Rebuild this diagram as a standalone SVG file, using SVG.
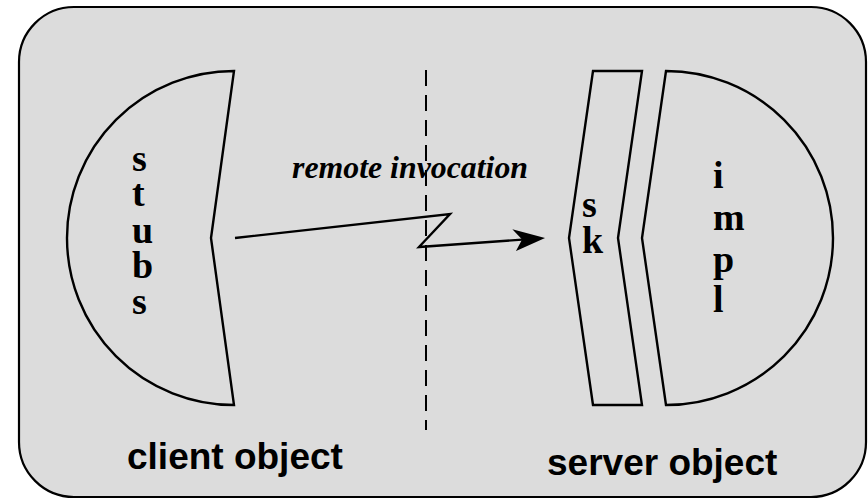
<svg xmlns="http://www.w3.org/2000/svg" width="868" height="499" viewBox="0 0 868 499">
  <style>
    .shape { fill: none; stroke: #000; stroke-width: 2.4; stroke-linejoin: miter; }
    .letter { font-family: "Liberation Serif", "Times New Roman", serif; font-weight: bold; font-size: 38px; fill: #000; }
    .caption { font-family: "Liberation Sans", Arial, sans-serif; font-weight: bold; font-size: 37px; fill: #000; }
    .note { font-family: "Liberation Serif", "Times New Roman", serif; font-weight: bold; font-style: italic; font-size: 32px; fill: #000; }
  </style>
  <defs>
    <marker id="arrowhead" viewBox="0 0 32 22" refX="9" refY="11" markerWidth="32" markerHeight="22" markerUnits="userSpaceOnUse" orient="auto">
      <path d="M0,0 L32,11 L2,22 L9,11 Z" fill="#000"/>
    </marker>
  </defs>

  <rect width="868" height="499" fill="#fff"/>

  <!-- enclosing frame -->
  <g id="frame">
    <rect x="19" y="7" width="847" height="490" rx="55" ry="55" fill="#dcdcdc" stroke="#000" stroke-width="2.2"/>
  </g>

  <!-- client side: stubs -->
  <g id="stubs">
    <path class="shape" d="M234,71 A167,167 0 0 0 234,405 L211,238 Z"/>
    <text class="letter">
      <tspan x="132" y="171">s</tspan>
      <tspan x="132" y="206">t</tspan>
      <tspan x="132" y="243">u</tspan>
      <tspan x="132" y="278">b</tspan>
      <tspan x="132" y="314">s</tspan>
    </text>
  </g>

  <!-- server side: skeleton -->
  <g id="skeleton">
    <path class="shape" d="M593,71 L642,71 L618,238 L642,405 L593,405 L569,238 Z"/>
    <text class="letter">
      <tspan x="582" y="217">s</tspan>
      <tspan x="582" y="253">k</tspan>
    </text>
  </g>

  <!-- server side: implementation -->
  <g id="impl">
    <path class="shape" d="M666,71 A167,167 0 0 1 666,405 L642,238 Z"/>
    <text class="letter">
      <tspan x="713" y="188">i</tspan>
      <tspan x="713" y="230">m</tspan>
      <tspan x="713" y="272">p</tspan>
      <tspan x="713" y="312">l</tspan>
    </text>
  </g>

  <!-- network boundary -->
  <g id="boundary">
    <text class="note" x="292" y="178" textLength="236" lengthAdjust="spacingAndGlyphs">remote invocation</text>
    <line x1="426" y1="70" x2="426" y2="430" stroke="#000" stroke-width="2" stroke-dasharray="16 9"/>
  </g>

  <!-- connectors -->
  <g id="connectors">
    <path class="shape" d="M235,238 L450,214 L419,247 L522.1,239.6" marker-end="url(#arrowhead)"/>
  </g>

  <!-- captions -->
  <g id="captions">
    <text class="caption" x="127" y="469">client object</text>
    <text class="caption" x="547" y="475">server object</text>
  </g>
</svg>
